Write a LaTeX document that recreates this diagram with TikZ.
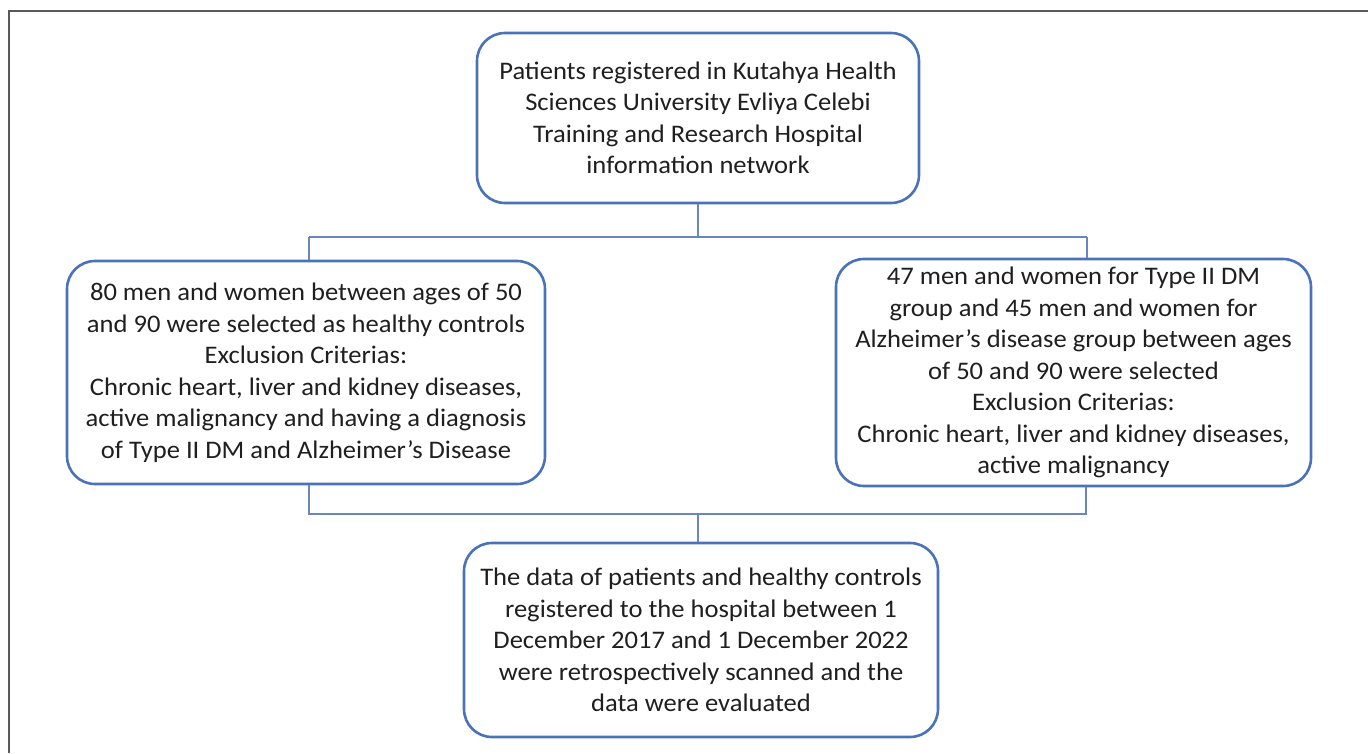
\documentclass[tikz,border=0pt]{standalone}
\usepackage{fontspec}
\setmainfont{Carlito}[FakeStretch=1.05]
\begin{document}
\begin{tikzpicture}[x=1pt,y=-1pt,
  flowbox/.style={draw=boxblue, line width=2.6pt, rounded corners=28pt,
    fill=white, align=center, text=black!88,
    font=\fontsize{25.3}{31.5}\selectfont, inner sep=0pt},
  conn/.style={draw=linkblue, line width=1.4pt},
  frame/.style={draw=black!65, line width=1.6pt}]
\definecolor{boxblue}{HTML}{4A72B8}
\definecolor{linkblue}{HTML}{6A86BC}
\useasboundingbox (0,0) rectangle (1368,753);

% outer frame, open at right and bottom
\coordinate (fa) at (9,753);
\coordinate (fb) at (9,11);
\coordinate (fc) at (1368,11);
\draw[frame] (fa) -- (fb) -- (fc);

% boxes
\node[flowbox, minimum width=442pt, minimum height=170pt] (top) at (698,118)
  {Patients registered in Kutahya Health\\Sciences University Evliya Celebi\\Training and Research Hospital\\information network};
\node[flowbox, minimum width=478pt, minimum height=223pt] (lbox) at (306,372.5)
  {80 men and women between ages of 50\\and 90 were selected as healthy controls\\Exclusion Criterias:\\Chronic heart, liver and kidney diseases,\\active malignancy and having a diagnosis\\of Type II DM and Alzheimer’s Disease};
\node[flowbox, minimum width=475pt, minimum height=227pt] (rbox) at (1073.5,372.5)
  {47 men and women for Type II DM\\group and 45 men and women for\\Alzheimer’s disease group between ages\\of 50 and 90 were selected\\Exclusion Criterias:\\Chronic heart, liver and kidney diseases,\\active malignancy};
\node[flowbox, minimum width=474pt, minimum height=194pt] (bot) at (701,640)
  {The data of patients and healthy controls\\registered to the hospital between 1\\December 2017 and 1 December 2022\\were retrospectively scanned and the\\data were evaluated};

% upper junctions
\coordinate (tj) at (698,237);
\coordinate (tl) at (309,237);
\coordinate (tr) at (1087,237);
\draw[conn] (top.south) -- (tj);
\draw[conn] (tl) -- (tr);
\draw[conn] (tl) -- (tl |- lbox.north);
\draw[conn] (tr) -- (tr |- rbox.north);

% lower junctions
\coordinate (bl) at (309,514);
\coordinate (br) at (1086,514);
\coordinate (bj) at (698,514);
\draw[conn] (bl |- lbox.south) -- (bl) -- (br) -- (br |- rbox.south);
\draw[conn] (bj) -- (bj |- bot.north);
\end{tikzpicture}
\end{document}
